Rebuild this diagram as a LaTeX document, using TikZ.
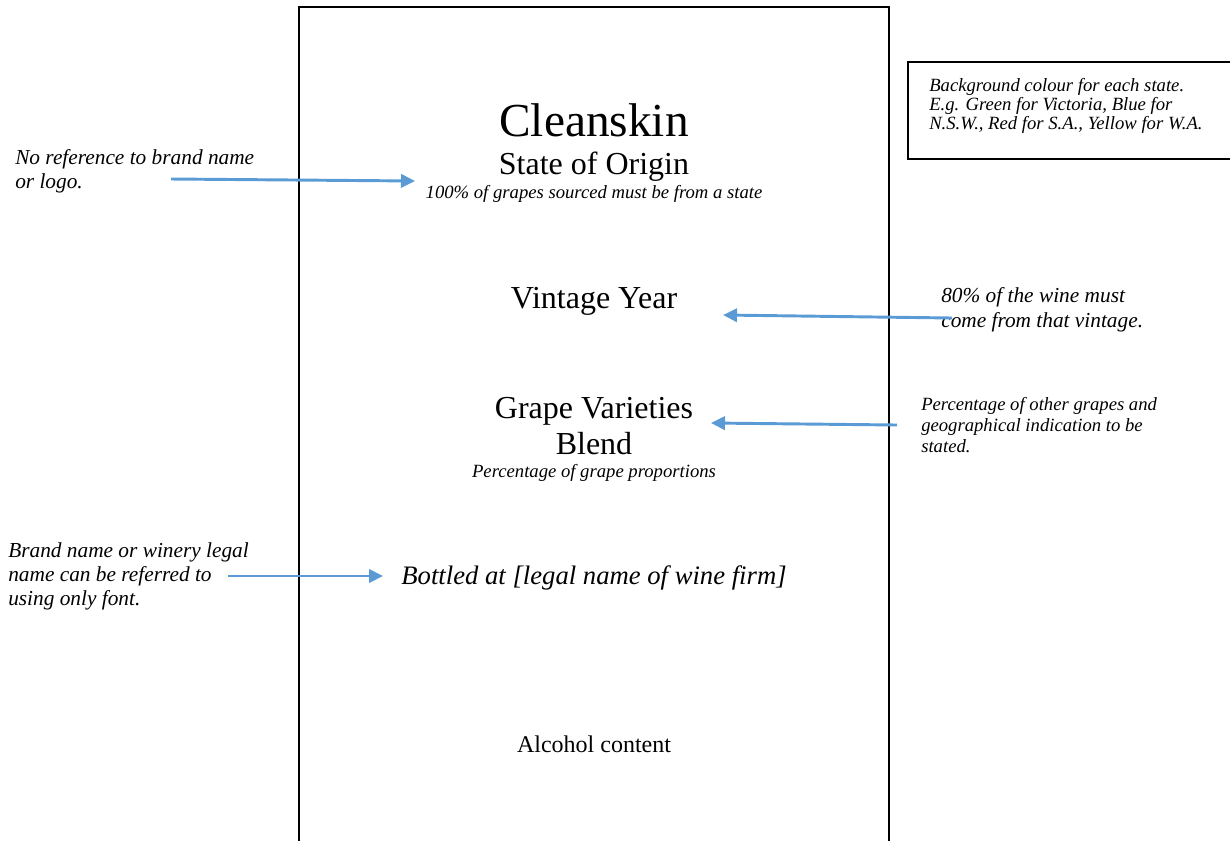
\documentclass[tikz,border=0pt]{standalone}
\usepackage{fontspec}
\setmainfont{Liberation Serif}
\usetikzlibrary{arrows.meta}
\definecolor{arrowblue}{RGB}{91,155,213}
\begin{document}
\begin{tikzpicture}[x=0.75pt,y=-0.75pt,
  labeltext/.style={inner sep=0pt, anchor=base},
  note/.style={inner sep=0pt, anchor=base west, align=left, font=\itshape\fontsize{16}{18}\selectfont},
  smallnote/.style={inner sep=0pt, anchor=base west, align=left, font=\itshape\fontsize{14}{15.75}\selectfont},
  pointer/.style={draw=arrowblue, line width=2.2pt, -{Triangle[length=10.5pt,width=10pt]}},
  frame/.style={draw=black, line width=1.1pt}
]
\useasboundingbox (0,0) rectangle (1230,840);

% bottle label outline (open at the bottom) and the colour key box
\begin{scope}
  \clip (0,0) rectangle (1230,840);
  \draw[frame] (299,850) -- (299,7) -- (889,7) -- (889,850);
  \draw[frame] (908,62) rectangle (1245,159);
\end{scope}

% label contents
\node[labeltext, font=\fontsize{35.5}{40}\selectfont] (brand) at (594,136) {Cleanskin};
\node[labeltext, font=\fontsize{24}{28}\selectfont] (origin) at (594,174) {State of Origin};
\node[labeltext, font=\itshape\fontsize{14}{16}\selectfont] (originnote) at (594,198) {100\% of grapes sourced must be from a state};
\node[labeltext, font=\fontsize{24}{28}\selectfont] (vintage) at (594,308) {Vintage Year};
\node[labeltext, font=\fontsize{24}{28}\selectfont] (varieties) at (594,418) {Grape Varieties};
\node[labeltext, font=\fontsize{24}{28}\selectfont] (blend) at (594,454) {Blend};
\node[labeltext, font=\itshape\fontsize{14}{16}\selectfont] (proportions) at (594,477) {Percentage of grape proportions};
\node[labeltext, font=\itshape\fontsize{20}{24}\selectfont] (bottled) at (594,584) {Bottled at [legal name of wine firm]};
\node[labeltext, font=\fontsize{18}{22}\selectfont] (alcohol) at (594,752) {Alcohol content};

% annotations (base anchor sits on the last line)
\node[smallnote, font=\itshape\fontsize{14}{13.9}\selectfont] (colourkey) at (929,129) {Background colour for each state.\\E.g. Green for Victoria, Blue for\\N.S.W., Red for S.A., Yellow for W.A.};
\node[note] (nobrand) at (15,188) {No reference to brand name\\or logo.};
\node[note, font=\itshape\fontsize{16}{18.75}\selectfont] (vintagenote) at (941,327) {80\% of the wine must\\come from that vintage.};
\node[smallnote] (blendnote) at (921,452) {Percentage of other grapes and\\geographical indication to be\\stated.};
\node[note, font=\itshape\fontsize{16}{18}\selectfont] (fontnote) at (8,605) {Brand name or winery legal\\name can be referred to\\using only font.};

% arrow end points
\coordinate (a1s) at (171,179);
\coordinate (a1e) at (415,181);
\coordinate (a2s) at (952,318);
\coordinate (a2e) at (723,315);
\coordinate (a3s) at (897,425);
\coordinate (a3e) at (711,423);
\coordinate (a4s) at (228,576);
\coordinate (a4e) at (383,576);

\draw[pointer] (a1s) -- (a1e);
\draw[pointer] (a2s) -- (a2e);
\draw[pointer] (a3s) -- (a3e);
\draw[pointer] (a4s) -- (a4e);
\end{tikzpicture}
\end{document}
